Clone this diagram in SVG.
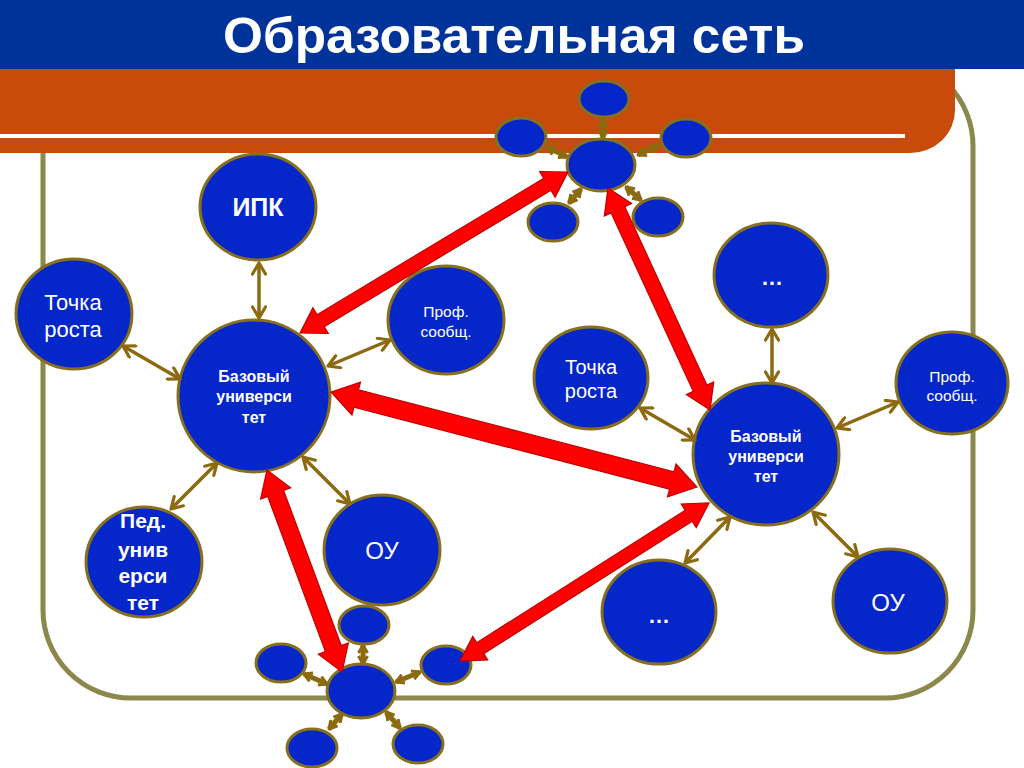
<svg xmlns="http://www.w3.org/2000/svg" width="1024" height="768" viewBox="0 0 1024 768">
<defs>
<style>
.node{fill:#0526C8;stroke:#86701F;stroke-width:3}
.t{fill:#fff;font-family:"Liberation Sans",Arial,sans-serif;text-anchor:middle}
.b{font-weight:bold}
.conn{stroke:#8C6A10;stroke-width:3.5;fill:none;marker-start:url(#ah);marker-end:url(#ah)}
.sconn{stroke:#8C6A10;stroke-width:5;fill:none;marker-start:url(#sh);marker-end:url(#sh)}
.red{fill:#FF0000;stroke:#C00000;stroke-width:1.2;stroke-linejoin:miter}
</style>
<marker id="ah" viewBox="0 0 16 16" refX="13" refY="8" markerWidth="16" markerHeight="16" markerUnits="userSpaceOnUse" orient="auto-start-reverse">
<path d="M2,1.5 L13,8 L2,14.5" fill="none" stroke="#8C6A10" stroke-width="3.2" stroke-linecap="round" stroke-linejoin="round"/>
</marker>
<marker id="sh" viewBox="0 0 12 12" refX="10" refY="6" markerWidth="12" markerHeight="12" markerUnits="userSpaceOnUse" orient="auto-start-reverse">
<path d="M2,1.5 L10,6 L2,10.5" fill="none" stroke="#8C6A10" stroke-width="3" stroke-linejoin="round"/>
</marker>
</defs>
<rect x="0" y="0" width="1024" height="768" fill="#fff"/>
<rect x="43" y="58" width="930" height="640" rx="88" ry="88" fill="none" stroke="#8C874A" stroke-width="5"/>
<g id="header">
<rect x="0" y="0" width="1024" height="69" fill="#00339A"/>
<path d="M0,69 H955 V110 A45,43 0 0 1 910,153 H0 Z" fill="#C84B0C"/>
<rect x="0" y="134" width="905" height="4" fill="#fff"/>
<text class="t b" x="514" y="53" font-size="50" textLength="582" lengthAdjust="spacingAndGlyphs">Образовательная сеть</text>
</g>
<g id="nodes">
<g id="ipk"><ellipse class="node" cx="258" cy="207" rx="58" ry="53"/><text class="t b" x="258" y="216" font-size="25">ИПК</text></g>
<g id="tochka-left"><ellipse class="node" cx="74" cy="314" rx="58" ry="55"/><text class="t" x="73" y="310" font-size="22">Точка</text><text class="t" x="73" y="337" font-size="22">роста</text></g>
<g id="prof-left"><ellipse class="node" cx="446" cy="320" rx="58" ry="54"/><text class="t" x="446" y="317" font-size="15.5">Проф.</text><text class="t" x="446" y="337" font-size="15.5">сообщ.</text></g>
<g id="univ-left"><ellipse class="node" cx="254" cy="396" rx="76" ry="76"/><text class="t b" x="254" y="382" font-size="16">Базовый</text><text class="t b" x="254" y="402" font-size="16">универси</text><text class="t b" x="254" y="423" font-size="16">тет</text></g>
<g id="ped"><ellipse class="node" cx="144" cy="562" rx="58" ry="55"/><text class="t b" x="143" y="528" font-size="21">Пед.</text><text class="t b" x="143" y="557" font-size="21">унив</text><text class="t b" x="143" y="583" font-size="21">ерси</text><text class="t b" x="143" y="610" font-size="21">тет</text></g>
<g id="ou-left"><ellipse class="node" cx="382" cy="550" rx="58" ry="55"/><text class="t" x="382" y="559" font-size="24">ОУ</text></g>
<g id="dots-top"><ellipse class="node" cx="771" cy="275" rx="57" ry="52"/><text class="t b" x="772" y="285" font-size="22">…</text></g>
<g id="tochka-right"><ellipse class="node" cx="591" cy="378" rx="57" ry="51"/><text class="t" x="591" y="374" font-size="20">Точка</text><text class="t" x="591" y="398" font-size="20">роста</text></g>
<g id="prof-right"><ellipse class="node" cx="952" cy="383" rx="56" ry="51"/><text class="t" x="952" y="382" font-size="15.5">Проф.</text><text class="t" x="952" y="401" font-size="15.5">сообщ.</text></g>
<g id="univ-right"><ellipse class="node" cx="766" cy="454" rx="73" ry="71"/><text class="t b" x="766" y="442" font-size="16">Базовый</text><text class="t b" x="766" y="462" font-size="16">универси</text><text class="t b" x="766" y="482" font-size="16">тет</text></g>
<g id="dots-bottom"><ellipse class="node" cx="659" cy="612" rx="57" ry="52"/><text class="t b" x="659" y="623" font-size="22">…</text></g>
<g id="ou-right"><ellipse class="node" cx="890" cy="601" rx="57" ry="52"/><text class="t" x="888" y="611" font-size="24">ОУ</text></g>
<g id="cluster-top">
<ellipse class="node" cx="604" cy="99" rx="25" ry="18"/>
<ellipse class="node" cx="521" cy="137" rx="25" ry="19"/>
<ellipse class="node" cx="686" cy="138" rx="25" ry="19"/>
<ellipse class="node" cx="553" cy="222" rx="25" ry="19"/>
<ellipse class="node" cx="658" cy="217" rx="25" ry="19"/>
<ellipse class="node" cx="601" cy="165" rx="34" ry="26"/>
</g>
<g id="cluster-bottom">
<ellipse class="node" cx="364" cy="625" rx="25" ry="19"/>
<ellipse class="node" cx="281" cy="663" rx="25" ry="19"/>
<ellipse class="node" cx="446" cy="665" rx="25" ry="19"/>
<ellipse class="node" cx="312" cy="748" rx="25" ry="19"/>
<ellipse class="node" cx="418" cy="744" rx="25" ry="19"/>
<ellipse class="node" cx="361" cy="691" rx="34" ry="27"/>
</g>
</g>
<g id="connectors">
<line class="conn" x1="259" y1="263" x2="259" y2="318"/>
<line class="conn" x1="123" y1="346" x2="180" y2="379"/>
<line class="conn" x1="390" y1="340" x2="328" y2="366"/>
<line class="conn" x1="171" y1="509" x2="217" y2="463"/>
<line class="conn" x1="303" y1="457" x2="350" y2="504"/>
<line class="conn" x1="772" y1="329" x2="772" y2="383"/>
<line class="conn" x1="640" y1="408" x2="695" y2="440"/>
<line class="conn" x1="898" y1="402" x2="837" y2="428"/>
<line class="conn" x1="730" y1="517" x2="685" y2="563"/>
<line class="conn" x1="813" y1="512" x2="858" y2="557"/>
<line class="sconn" x1="603" y1="119" x2="603" y2="138"/>
<line class="sconn" x1="547" y1="147" x2="567" y2="157"/>
<line class="sconn" x1="659" y1="145" x2="638" y2="155"/>
<line class="sconn" x1="569" y1="203" x2="581" y2="189"/>
<line class="sconn" x1="626" y1="187" x2="641" y2="200"/>
<line class="sconn" x1="363" y1="645" x2="363" y2="664"/>
<line class="sconn" x1="304" y1="674" x2="327" y2="684"/>
<line class="sconn" x1="420" y1="672" x2="396" y2="682"/>
<line class="sconn" x1="329" y1="729" x2="342" y2="714"/>
<line class="sconn" x1="386" y1="712" x2="400" y2="728"/>
<path class="red" transform="translate(434,252.5) rotate(-31)" d="M-156.3,0 L-132.3,-15 L-132.3,-7 L132.3,-7 L132.3,-15 L156.3,0 L132.3,15 L132.3,7 L-132.3,7 L-132.3,15 Z"/>
<path class="red" transform="translate(659,299) rotate(65.3)" d="M-122.2,0 L-98.2,-15 L-98.2,-7.5 L98.2,-7.5 L98.2,-15 L122.2,0 L98.2,15 L98.2,7.5 L-98.2,7.5 L-98.2,15 Z"/>
<path class="red" transform="translate(514,439.5) rotate(14.55)" d="M-189,0 L-163,-17 L-163,-9 L163,-9 L163,-17 L189,0 L163,17 L163,9 L-163,9 L-163,17 Z"/>
<path class="red" transform="translate(304.5,571) rotate(69.6)" d="M-107.8,0 L-82.8,-16 L-82.8,-8.5 L82.8,-8.5 L82.8,-16 L107.8,0 L82.8,16 L82.8,8.5 L-82.8,8.5 L-82.8,16 Z"/>
<path class="red" transform="translate(584.5,582) rotate(-32.4)" d="M-147.5,0 L-123.5,-14 L-123.5,-6.5 L123.5,-6.5 L123.5,-14 L147.5,0 L123.5,14 L123.5,6.5 L-123.5,6.5 L-123.5,14 Z"/>
</g>
</svg>
